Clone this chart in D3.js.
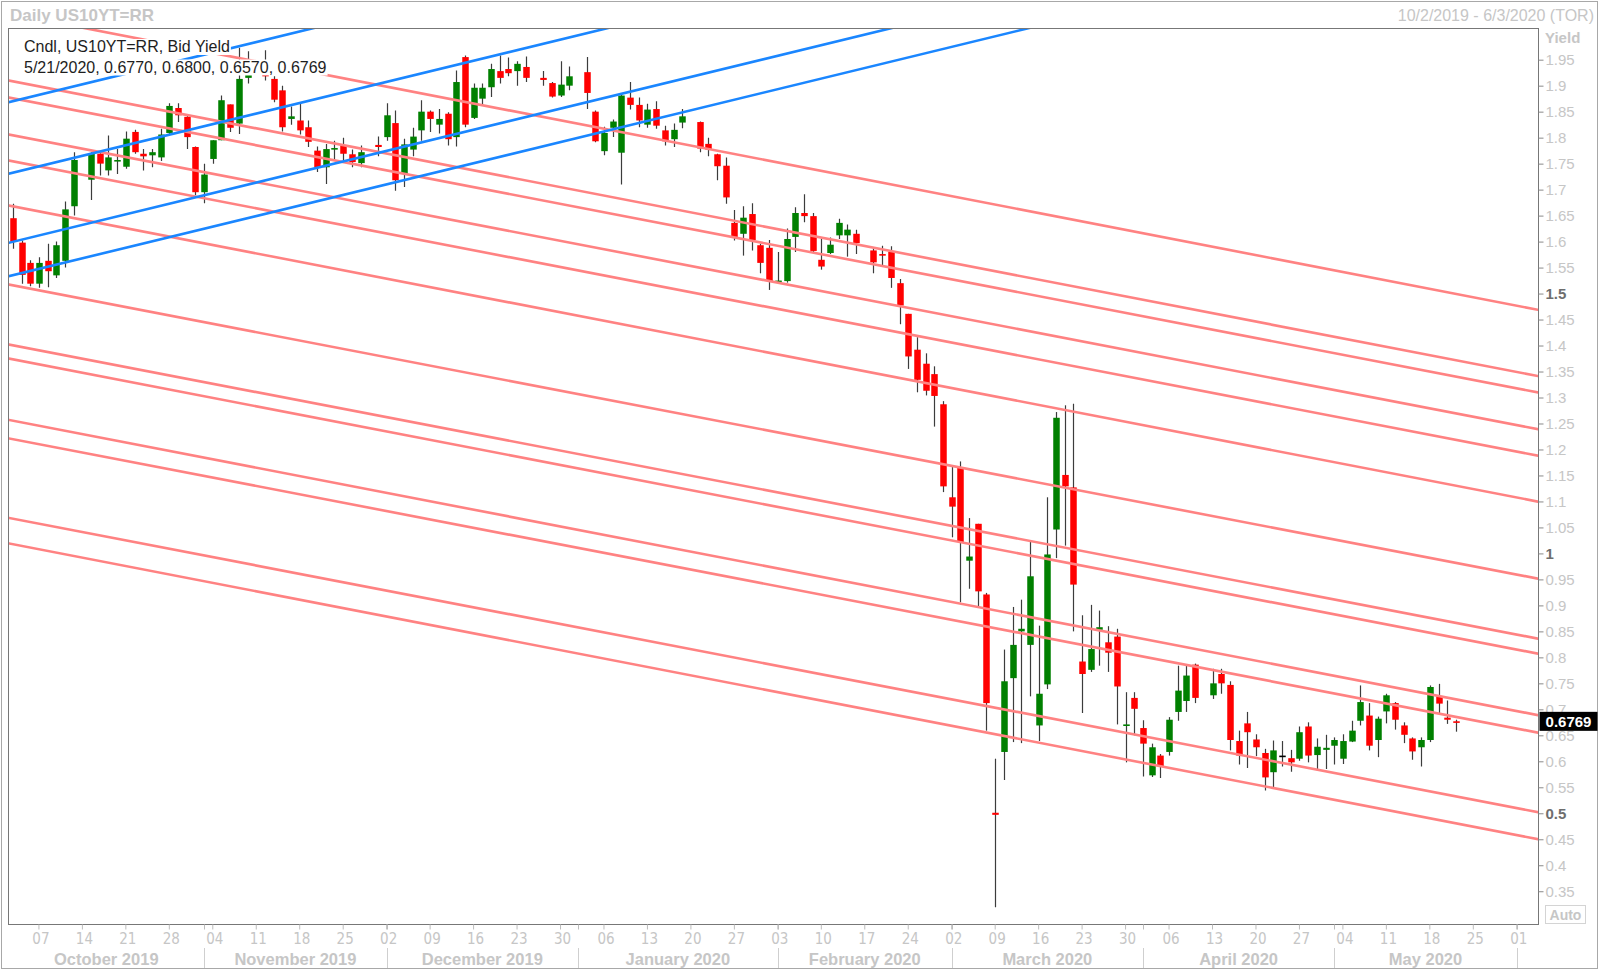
<!DOCTYPE html>
<html><head><meta charset="utf-8">
<script src="https://cdn.jsdelivr.net/npm/d3@7/dist/d3.min.js"></script>
<style>body{margin:0;background:#fff;} svg{display:block;}</style>
</head><body>
<svg id="chart" width="1600" height="972"></svg>
<script>
// ---------- DATA ----------
const dates = ["2019-10-02","2019-10-03","2019-10-04","2019-10-07","2019-10-08","2019-10-09","2019-10-10","2019-10-11",
"2019-10-15","2019-10-16","2019-10-17","2019-10-18","2019-10-21","2019-10-22","2019-10-23","2019-10-24","2019-10-25",
"2019-10-28","2019-10-29","2019-10-30","2019-10-31","2019-11-01","2019-11-04","2019-11-05","2019-11-06","2019-11-07","2019-11-08",
"2019-11-12","2019-11-13","2019-11-14","2019-11-15","2019-11-18","2019-11-19","2019-11-20","2019-11-21","2019-11-22",
"2019-11-25","2019-11-26","2019-11-27","2019-11-29","2019-12-02","2019-12-03","2019-12-04","2019-12-05","2019-12-06",
"2019-12-09","2019-12-10","2019-12-11","2019-12-12","2019-12-13","2019-12-16","2019-12-17","2019-12-18","2019-12-19","2019-12-20",
"2019-12-23","2019-12-24","2019-12-26","2019-12-27","2019-12-30","2019-12-31","2020-01-02","2020-01-03",
"2020-01-06","2020-01-07","2020-01-08","2020-01-09","2020-01-10","2020-01-13","2020-01-14","2020-01-15","2020-01-16","2020-01-17",
"2020-01-21","2020-01-22","2020-01-23","2020-01-24","2020-01-27","2020-01-28","2020-01-29","2020-01-30","2020-01-31",
"2020-02-03","2020-02-04","2020-02-05","2020-02-06","2020-02-07","2020-02-10","2020-02-11","2020-02-12","2020-02-13","2020-02-14",
"2020-02-18","2020-02-19","2020-02-20","2020-02-21","2020-02-24","2020-02-25","2020-02-26","2020-02-27","2020-02-28",
"2020-03-02","2020-03-03","2020-03-04","2020-03-05","2020-03-06","2020-03-09","2020-03-10","2020-03-11","2020-03-12","2020-03-13",
"2020-03-16","2020-03-17","2020-03-18","2020-03-19","2020-03-20","2020-03-23","2020-03-24","2020-03-25","2020-03-26","2020-03-27",
"2020-03-30","2020-03-31","2020-04-01","2020-04-02","2020-04-03","2020-04-06","2020-04-07","2020-04-08","2020-04-09",
"2020-04-13","2020-04-14","2020-04-15","2020-04-16","2020-04-17","2020-04-20","2020-04-21","2020-04-22","2020-04-23","2020-04-24",
"2020-04-27","2020-04-28","2020-04-29","2020-04-30","2020-05-01","2020-05-04","2020-05-05","2020-05-06","2020-05-07","2020-05-08",
"2020-05-11","2020-05-12","2020-05-13","2020-05-14","2020-05-15","2020-05-18","2020-05-19","2020-05-20","2020-05-21"];

const open = [1.645,1.598,1.559,1.519,1.563,1.535,1.563,1.668,
1.719,1.769,1.737,1.754,1.744,1.811,1.769,1.766,1.762,
1.809,1.857,1.840,1.782,1.695,1.759,1.795,1.864,1.827,1.915,
1.940,1.913,1.891,1.836,1.833,1.820,1.775,1.743,1.777,
1.785,1.768,1.751,1.786,1.801,1.828,1.730,1.777,1.814,
1.850,1.825,1.846,1.801,1.955,1.838,1.875,1.897,1.928,1.932,
1.928,1.936,1.915,1.905,1.881,1.900,1.926,1.850,
1.774,1.819,1.771,1.877,1.863,1.825,1.855,1.814,1.797,1.829,
1.830,1.788,1.768,1.746,1.636,1.615,1.653,1.593,1.588,
1.522,1.524,1.609,1.655,1.649,1.565,1.578,1.612,1.612,1.615,
1.583,1.576,1.580,1.520,1.461,1.392,1.365,1.345,1.287,
1.108,1.165,0.986,1.057,0.921,0.501,0.618,0.760,0.850,0.824,
0.669,0.748,1.046,1.151,1.127,0.792,0.776,0.853,0.829,0.840,
0.668,0.722,0.664,0.573,0.611,0.618,0.695,0.716,0.786,
0.727,0.768,0.747,0.639,0.673,0.642,0.616,0.579,0.611,0.606,
0.605,0.667,0.612,0.622,0.630,0.605,0.638,0.678,0.688,0.641,
0.696,0.712,0.669,0.644,0.627,0.641,0.725,0.684,0.677];

const high = [1.673,1.602,1.564,1.570,1.596,1.600,1.677,1.772,
1.772,1.772,1.804,1.778,1.812,1.815,1.778,1.778,1.817,
1.866,1.866,1.845,1.783,1.750,1.795,1.881,1.864,1.973,1.966,
1.968,1.918,1.900,1.860,1.865,1.833,1.783,1.788,1.794,
1.800,1.777,1.785,1.802,1.866,1.852,1.798,1.819,1.872,
1.852,1.855,1.849,1.929,1.958,1.904,1.904,1.942,1.958,1.954,
1.947,1.956,1.928,1.907,1.947,1.937,1.955,1.852,
1.821,1.835,1.884,1.907,1.877,1.865,1.870,1.823,1.827,1.855,
1.831,1.800,1.769,1.762,1.661,1.668,1.674,1.596,1.603,
1.580,1.625,1.666,1.691,1.655,1.605,1.608,1.644,1.633,1.623,
1.587,1.592,1.591,1.528,1.461,1.416,1.385,1.360,1.293,
1.167,1.177,1.068,1.057,0.924,0.605,0.815,0.897,0.911,1.025,
0.861,1.108,1.272,1.285,1.288,0.881,0.901,0.890,0.860,0.855,
0.733,0.733,0.679,0.634,0.614,0.685,0.784,0.784,0.788,
0.778,0.778,0.754,0.659,0.695,0.652,0.624,0.640,0.639,0.622,
0.667,0.675,0.644,0.651,0.646,0.652,0.678,0.746,0.712,0.686,
0.730,0.714,0.675,0.646,0.646,0.746,0.749,0.717,0.680];

const low = [1.586,1.519,1.514,1.511,1.512,1.530,1.550,1.650,
1.680,1.727,1.727,1.730,1.740,1.769,1.737,1.743,1.755,
1.807,1.830,1.778,1.689,1.674,1.750,1.795,1.811,1.807,1.904,
1.910,1.868,1.812,1.825,1.806,1.782,1.734,1.711,1.756,
1.756,1.743,1.743,1.764,1.794,1.698,1.705,1.764,1.794,
1.811,1.808,1.785,1.783,1.820,1.836,1.862,1.878,1.904,1.918,
1.900,1.907,1.900,1.877,1.878,1.891,1.855,1.791,
1.766,1.801,1.710,1.854,1.820,1.819,1.817,1.785,1.782,1.818,
1.772,1.764,1.718,1.673,1.602,1.573,1.583,1.539,1.507,
1.521,1.521,1.580,1.637,1.580,1.546,1.576,1.605,1.571,1.576,
1.539,1.554,1.511,1.441,1.355,1.310,1.304,1.244,1.118,
1.031,0.906,0.932,0.897,0.659,0.319,0.564,0.637,0.635,0.725,
0.639,0.739,0.991,1.015,0.850,0.693,0.772,0.784,0.772,0.671,
0.598,0.650,0.571,0.570,0.568,0.611,0.678,0.695,0.712,
0.720,0.730,0.621,0.594,0.587,0.610,0.544,0.550,0.590,0.580,
0.601,0.598,0.582,0.585,0.594,0.595,0.637,0.669,0.621,0.608,
0.673,0.661,0.635,0.603,0.590,0.637,0.693,0.672,0.657];

const close = [1.600,1.536,1.519,1.559,1.543,1.593,1.662,1.757,
1.770,1.750,1.762,1.757,1.798,1.772,1.764,1.772,1.806,
1.861,1.843,1.801,1.695,1.729,1.795,1.872,1.819,1.913,1.935,
1.918,1.873,1.820,1.841,1.814,1.792,1.743,1.778,1.780,
1.769,1.753,1.772,1.782,1.843,1.718,1.787,1.802,1.850,
1.836,1.836,1.797,1.907,1.825,1.896,1.896,1.932,1.915,1.924,
1.942,1.915,1.911,1.879,1.902,1.918,1.886,1.793,
1.809,1.831,1.881,1.863,1.833,1.854,1.823,1.793,1.815,1.841,
1.779,1.777,1.745,1.685,1.609,1.646,1.603,1.559,1.524,
1.525,1.605,1.655,1.649,1.582,1.552,1.594,1.636,1.623,1.597,
1.560,1.574,1.530,1.477,1.379,1.334,1.313,1.303,1.129,
1.090,1.022,0.994,0.927,0.712,0.497,0.754,0.824,0.855,0.956,
0.730,0.998,1.261,1.129,0.940,0.768,0.816,0.858,0.809,0.744,
0.671,0.701,0.634,0.627,0.590,0.680,0.736,0.765,0.722,
0.750,0.750,0.641,0.611,0.656,0.627,0.569,0.621,0.611,0.598,
0.656,0.611,0.628,0.626,0.641,0.639,0.659,0.714,0.630,0.682,
0.727,0.680,0.651,0.619,0.641,0.743,0.711,0.680,0.6769];

// trend lines: values at the first and last axis dates
const lineDates = ["2019-10-02","2020-06-03"];
const pinkStart = [2.0375,1.9084,1.8757,1.8045,1.7544,1.6679,1.5158,1.4004,1.3735,1.2553,1.2199,1.0669,1.0177];
const pinkEnd   = [1.4702,1.3426,1.3112,1.2404,1.1894,1.1011,0.9529,0.8375,0.8086,0.6903,0.6566,0.5036,0.4515];
const blueStart = [1.8701,1.7324,1.5996,1.5353];
const blueEnd   = [2.5820,2.4443,2.3115,2.2472];

const yTicks = [1.95,1.9,1.85,1.8,1.75,1.7,1.65,1.6,1.55,1.5,1.45,1.4,1.35,1.3,1.25,1.2,1.15,1.1,1.05,1,
0.95,0.9,0.85,0.8,0.75,0.7,0.65,0.6,0.55,0.5,0.45,0.4,0.35];
const boldTicks = [1.5,1,0.5];
const monthLabels = ["October 2019","November 2019","December 2019","January 2020","February 2020","March 2020","April 2020","May 2020"];
const titleLeft = "Daily US10YT=RR";
const titleRight = "10/2/2019 - 6/3/2020 (TOR)";
const legendLines = ["Cndl, US10YT=RR, Bid Yield","5/21/2020, 0.6770, 0.6800, 0.6570, 0.6769"];
const axisDomain = ["2019-10-02","2020-06-03"];
const yDomain = [0.286, 2.010];

// ---------- LAYOUT ----------
const W = 1600, H = 972;
const P = {l: 8.5, r: 1538.5, t: 28.5, b: 924.5};
const svg = d3.select("#chart");
const FONT = "'Liberation Sans', Arial, sans-serif";
const NARROW = "'Liberation Sans Narrow', 'DejaVu Sans Condensed', 'Liberation Sans', sans-serif";
const LIGHT = "#c6c6c6";

const parse = d3.utcParse("%Y-%m-%d");
const fmt = d3.utcFormat("%Y-%m-%d");
const allDays = d3.utcDay.range(parse(axisDomain[0]), d3.utcDay.offset(parse(axisDomain[1]), 1))
  .filter(d => d.getUTCDay() > 0 && d.getUTCDay() < 6).map(fmt);

const x = d3.scaleBand().domain(allDays).range([P.l, P.r]).padding(0);
const bw = x.bandwidth();
const xc = d => x(d) + bw / 2;
const y = d3.scaleLinear().domain(yDomain).range([P.b, P.t]);

// outer frame
svg.append("rect").attr("x",1.5).attr("y",1.5).attr("width",W-4).attr("height",H-5)
  .attr("fill","#fff").attr("stroke","#a8a8a8");

// titles
svg.append("text").attr("x",10).attr("y",21).text(titleLeft)
  .attr("font-family",FONT).attr("font-weight","bold").attr("font-size",17).attr("fill",LIGHT);
svg.append("text").attr("x",1594).attr("y",21).attr("text-anchor","end").text(titleRight)
  .attr("font-family",FONT).attr("font-size",16).attr("fill",LIGHT);

// clip
svg.append("clipPath").attr("id","plotclip").append("rect")
  .attr("x",P.l).attr("y",P.t).attr("width",P.r-P.l).attr("height",P.b-P.t);

const plot = svg.append("g").attr("clip-path","url(#plotclip)");

// candles
const data = dates.map((d,i)=>({d, o:open[i], h:high[i], l:low[i], c:close[i]}));
const cg = plot.append("g");
cg.selectAll("line.wick").data(data).join("line").attr("class","wick")
  .attr("x1",d=>Math.round(xc(d.d))+0.5).attr("x2",d=>Math.round(xc(d.d))+0.5)
  .attr("y1",d=>y(d.h)).attr("y2",d=>y(d.l))
  .attr("stroke","#3c3c3c").attr("stroke-width",1.2);
const bodyW = 6.5;
cg.selectAll("rect.body").data(data).join("rect").attr("class","body")
  .attr("x",d=>Math.round(xc(d.d))+0.5-bodyW/2).attr("width",bodyW)
  .attr("y",d=>y(Math.max(d.o,d.c)))
  .attr("height",d=>Math.max(1.6, Math.abs(y(d.o)-y(d.c))))
  .attr("fill",d=> d.c>d.o ? "#008000" : (d.c<d.o ? "#ff0000" : "#000"));

// trend lines (extended to plot edges)
function trend(v0, v1){
  const x0 = xc(lineDates[0]), x1 = xc(lineDates[1]);
  const y0 = y(v0), y1 = y(v1);
  const s = (y1-y0)/(x1-x0);
  return [[P.l-5, y0 + s*(P.l-5-x0)], [P.r+5, y0 + s*(P.r+5-x0)]];
}
const lg = plot.append("g");
pinkStart.forEach((v,i)=>{
  const pts = trend(v, pinkEnd[i]);
  lg.append("path").attr("d", d3.line()(pts)).attr("fill","none")
    .attr("stroke","#ff8282").attr("stroke-width",2.6);
});
blueStart.forEach((v,i)=>{
  const pts = trend(v, blueEnd[i]);
  lg.append("path").attr("d", d3.line()(pts)).attr("fill","none")
    .attr("stroke","#1a86ff").attr("stroke-width",2.6);
});

// plot border
svg.append("rect").attr("x",P.l).attr("y",P.t).attr("width",P.r-P.l).attr("height",P.b-P.t)
  .attr("fill","none").attr("stroke","#777");

// y axis
const yAxis = d3.axisRight(y).tickValues(yTicks).tickSize(5).tickPadding(2)
  .tickFormat(d=>d3.format("~g")(d));
const ya = svg.append("g").attr("transform",`translate(${P.r},0)`).call(yAxis);
ya.select(".domain").remove();
ya.selectAll(".tick line").attr("stroke","#8a8a8a");
ya.selectAll(".tick text").attr("font-family",FONT).attr("font-size",15)
  .attr("fill",d=> boldTicks.includes(d) ? "#6e6e6e" : LIGHT)
  .attr("font-weight",d=> boldTicks.includes(d) ? "bold" : "normal");
svg.append("text").attr("x",1545).attr("y",43).text("Yield")
  .attr("font-family",FONT).attr("font-weight","bold").attr("font-size",15).attr("fill",LIGHT);

// last price label
const lastY = y(close[close.length-1]);
svg.append("rect").attr("x",P.r+1).attr("y",lastY-9.5).attr("width",58).attr("height",19).attr("fill","#000");
svg.append("text").attr("x",P.r+30).attr("y",lastY+5.5).attr("text-anchor","middle")
  .text(d3.format(".4f")(close[close.length-1]))
  .attr("font-family",FONT).attr("font-weight","bold").attr("font-size",15).attr("fill","#fff");

// Auto box
svg.append("rect").attr("x",1545.5).attr("y",905.5).attr("width",40).attr("height",18)
  .attr("fill","#fff").attr("stroke","#d4d4d4");
svg.append("text").attr("x",1565.5).attr("y",920).attr("text-anchor","middle").text("Auto")
  .attr("font-family",FONT).attr("font-weight","bold").attr("font-size",14).attr("fill",LIGHT);

// x axis: weekly ticks on Mondays
const mondays = allDays.filter(d=>parse(d).getUTCDay()===1);
const xAxis = d3.axisBottom(x).tickValues(mondays).tickSize(5).tickPadding(4)
  .tickFormat(d=>d3.utcFormat("%d")(parse(d)));
const xa = svg.append("g").attr("transform",`translate(0,${P.b})`).call(xAxis);
xa.select(".domain").remove();
xa.selectAll(".tick line").attr("stroke","#bdbdbd");
xa.selectAll(".tick text").attr("font-family",NARROW).attr("font-size",15).attr("fill",LIGHT).attr("dx",2);

// month separators and labels
const monthStarts = [];
allDays.forEach((d,i)=>{ if(i>0 && d.slice(0,7)!==allDays[i-1].slice(0,7)) monthStarts.push(d); });
const sepX = monthStarts.map(xc);
const mg = svg.append("g");
sepX.forEach(sx=>{
  mg.append("line").attr("x1",Math.round(sx)+0.5).attr("x2",Math.round(sx)+0.5).attr("y1",P.b).attr("y2",P.b+5).attr("stroke","#bdbdbd");
  mg.append("line").attr("x1",Math.round(sx)+0.5).attr("x2",Math.round(sx)+0.5).attr("y1",948).attr("y2",968).attr("stroke","#cfcfcf");
});
const bounds = [P.l, ...sepX];
monthLabels.forEach((m,i)=>{
  const cx = (bounds[i]+bounds[i+1])/2;
  mg.append("text").attr("x",cx).attr("y",965).attr("text-anchor","middle").text(m)
    .attr("font-family",FONT).attr("font-weight","bold").attr("font-size",16.5).attr("fill",LIGHT);
});

// legend with white backgrounds
const leg = svg.append("g");
legendLines.forEach((t,i)=>{
  const g = leg.append("g");
  const tx = g.append("text").attr("x",24).attr("y",52+i*20.5).text(t)
    .attr("font-family",FONT).attr("font-size",16).attr("fill","#1e1e1e");
  const bb = tx.node().getBBox();
  g.insert("rect","text").attr("x",bb.x-1).attr("y",bb.y+1).attr("width",bb.width+2).attr("height",bb.height-1).attr("fill","#fff");
});
</script>
</body></html>
